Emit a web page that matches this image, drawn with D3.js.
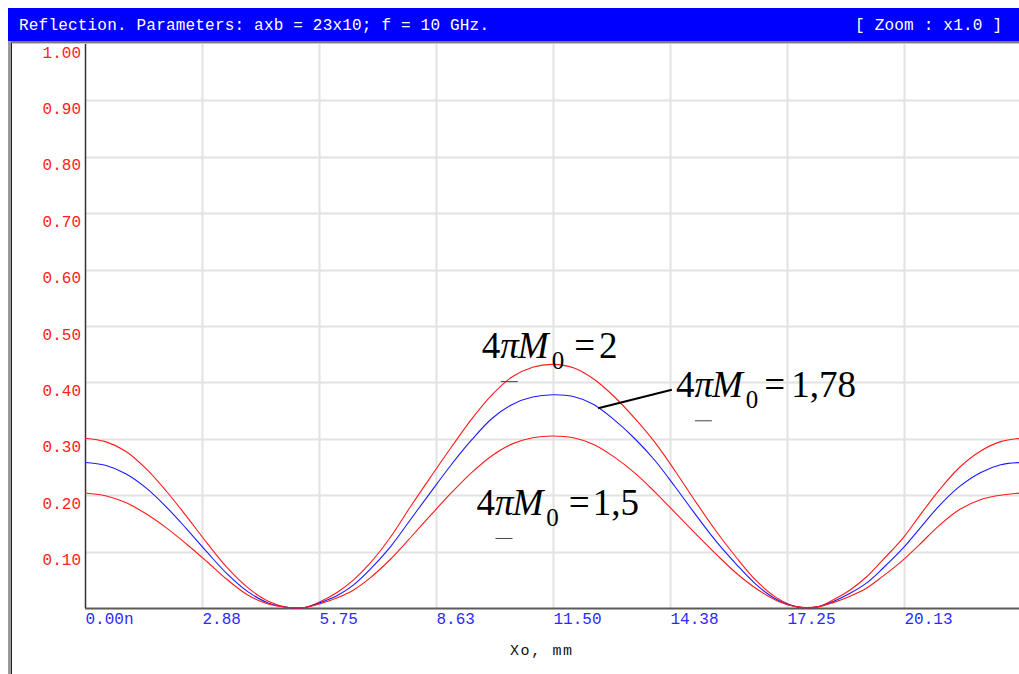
<!doctype html>
<html lang="en">
<head>
<meta charset="utf-8">
<title>Reflection</title>
<script src="https://cdn.jsdelivr.net/npm/d3@7/dist/d3.min.js"></script>
<style>
	body { margin: 0; background: #fff; }
	svg { display: block; }
	.mono { font-family: "Liberation Mono", "DejaVu Sans Mono", monospace; font-size: 16px; }
	.math { font-family: "Liberation Serif", "Times New Roman", serif; font-size: 37px; fill: #000; }
</style>
</head>
<body>
<div id="chart"></div>
<script>
	// x positions, mm
	var xs = [0, 0.5, 1.0, 1.5, 2.0, 2.5, 3.0, 3.5, 4.0, 4.5, 5.0, 5.4, 5.8, 6.2, 6.6, 7.0, 7.5, 8.0, 8.5, 9.0, 9.5, 10.0, 10.5, 11.0, 11.5,
		12.0, 12.5, 13.0, 13.5, 14.0, 14.5, 15.0, 15.5, 16.0, 16.5, 17.0, 17.5, 18.0, 18.4, 18.8, 19.2, 19.6, 20.1, 20.5, 21.0, 21.5, 22.0, 22.5, 23.0];

	// 4piM0 = 2
	var m20 = [0.301, 0.295, 0.278, 0.247, 0.207, 0.162, 0.115, 0.071, 0.036, 0.012, 0.001, 0.001, 0.012, 0.028, 0.050, 0.079, 0.125, 0.180, 0.233, 0.285, 0.335, 0.378, 0.410, 0.427, 0.432,
		0.426, 0.406, 0.375, 0.337, 0.294, 0.243, 0.189, 0.137, 0.090, 0.048, 0.018, 0.002, 0.002, 0.015, 0.032, 0.055, 0.085, 0.124, 0.163, 0.210, 0.250, 0.278, 0.295, 0.301];
	// 4piM0 = 1,78
	var m178 = [0.258, 0.253, 0.238, 0.213, 0.179, 0.140, 0.099, 0.060, 0.029, 0.009, 0.001, 0.001, 0.010, 0.022, 0.041, 0.068, 0.108, 0.157, 0.206, 0.254, 0.298, 0.336, 0.361, 0.374, 0.378,
		0.375, 0.361, 0.334, 0.301, 0.262, 0.215, 0.166, 0.119, 0.078, 0.041, 0.015, 0.002, 0.002, 0.012, 0.026, 0.044, 0.070, 0.106, 0.140, 0.182, 0.216, 0.240, 0.254, 0.258];
	// 4piM0 = 1,5
	var m15 = [0.204, 0.199, 0.187, 0.167, 0.142, 0.113, 0.082, 0.050, 0.023, 0.007, 0.001, 0.001, 0.008, 0.018, 0.032, 0.053, 0.086, 0.125, 0.165, 0.204, 0.240, 0.270, 0.291, 0.302, 0.305,
		0.302, 0.290, 0.268, 0.240, 0.206, 0.169, 0.132, 0.096, 0.062, 0.034, 0.013, 0.002, 0.002, 0.010, 0.021, 0.035, 0.056, 0.085, 0.112, 0.147, 0.175, 0.192, 0.200, 0.204];

	var xTicks = [0, 2.875, 5.75, 8.625, 11.5, 14.375, 17.25, 20.125];
	var xTickLabels = ["0.00n", "2.88", "5.75", "8.63", "11.50", "14.38", "17.25", "20.13"];
	var yTicks = [0.1, 0.2, 0.3, 0.4, 0.5, 0.6, 0.7, 0.8, 0.9, 1.0];
	var yTickLabels = ["0.10", "0.20", "0.30", "0.40", "0.50", "0.60", "0.70", "0.80", "0.90", "1.00"];

	var series = [
		{ name: "2", values: m20, color: "#ff1a1a" },
		{ name: "1,78", values: m178, color: "#1a1aff" },
		{ name: "1,5", values: m15, color: "#ff1a1a" }
	];

	// label anchors in data units (x mm, y value); gaps around "="
	var labels = [
		{ value: "2", x: 9.75, y: 0.443, gapEq: 10, gapNum: 4 },
		{ value: "1,78", x: 14.52, y: 0.3736, gapEq: 6, gapNum: 6 },
		{ value: "1,5", x: 9.62, y: 0.165, gapEq: 10, gapNum: 3 }
	];
	var leader = [[12.61, 0.354], [14.42, 0.387]];

	var widthSvg = 1019, heightSvg = 674;
	var plotLeft = 85, plotRight = 1021, plotTop = 44, plotBottom = 608;

	var svg = d3.select("#chart").append("svg").attr("width", widthSvg).attr("height", heightSvg);

	var xScale = d3.scaleLinear().domain([0, 23]).range([plotLeft, plotRight]);
	var yScale = d3.scaleLinear().domain([0, 1]).range([plotBottom, plotTop]);

	// frame and title bar
	svg.append("rect").attr("x", 8).attr("y", 8).attr("width", widthSvg - 8).attr("height", 33).attr("fill", "#0000ff");
	svg.append("rect").attr("x", 8).attr("y", 41).attr("width", widthSvg - 8).attr("height", 2).attr("fill", "#7a7a7a");
	svg.append("rect").attr("x", 8).attr("y", 43).attr("width", widthSvg - 8).attr("height", 1).attr("fill", "#c8c8c8");
	svg.append("rect").attr("x", 8).attr("y", 41).attr("width", 3).attr("height", heightSvg - 41).attr("fill", "#9a9a9a");
	svg.append("rect").attr("x", 11).attr("y", 43).attr("width", 1).attr("height", heightSvg - 43).attr("fill", "#222");

	svg.append("text").attr("class", "mono").attr("x", 19).attr("y", 30).attr("fill", "#fff")
		.attr("textLength", 470)
		.text("Reflection. Parameters: axb = 23x10; f = 10 GHz.");
	svg.append("text").attr("class", "mono").attr("x", 855).attr("y", 30).attr("fill", "#fff")
		.attr("textLength", 147)
		.text("[ Zoom : x1.0 ]");

	// grid
	var g = svg.append("g");
	g.selectAll(".vgrid").data(xTicks.slice(1)).enter().append("line")
		.attr("x1", function(d) { return Math.round(xScale(d)) + 0.5; })
		.attr("x2", function(d) { return Math.round(xScale(d)) + 0.5; })
		.attr("y1", plotTop).attr("y2", plotBottom)
		.attr("stroke", "#e2e2e2").attr("stroke-width", 2);
	g.selectAll(".hgrid").data(yTicks.slice(0, -1)).enter().append("line")
		.attr("x1", plotLeft).attr("x2", widthSvg)
		.attr("y1", function(d) { return Math.round(yScale(d)) + 0.5; })
		.attr("y2", function(d) { return Math.round(yScale(d)) + 0.5; })
		.attr("stroke", "#e2e2e2").attr("stroke-width", 2);

	// axes
	var xAxis = svg.append("g").attr("transform", "translate(0," + plotBottom + ")")
		.call(d3.axisBottom(xScale).tickValues(xTicks).tickSize(0)
			.tickFormat(function(d, i) { return xTickLabels[i]; }));
	xAxis.select(".domain").remove();
	xAxis.selectAll("text").attr("class", "mono").attr("fill", "#2a2aff")
		.attr("text-anchor", "start").attr("y", 15.5).attr("dy", null);

	var yAxis = svg.append("g").attr("transform", "translate(81,0)")
		.call(d3.axisLeft(yScale).tickValues(yTicks).tickSize(0)
			.tickFormat(function(d, i) { return yTickLabels[i]; }));
	yAxis.select(".domain").remove();
	yAxis.selectAll("text").attr("class", "mono").attr("fill", "#ff2020")
		.attr("x", 0).attr("y", 13).attr("dy", null);

	svg.append("line").attr("x1", plotLeft).attr("x2", widthSvg).attr("y1", plotBottom + 0.5).attr("y2", plotBottom + 0.5)
		.attr("stroke", "#5a5a5a").attr("stroke-width", 2);
	svg.append("line").attr("x1", plotLeft + 0.5).attr("x2", plotLeft + 0.5).attr("y1", plotTop).attr("y2", plotBottom)
		.attr("stroke", "#333").attr("stroke-width", 1.5);

	svg.append("text").attr("class", "mono").attr("x", 510).attr("y", 655).attr("fill", "#111")
		.style("font-size", "15px").attr("textLength", 62).text("Xo, mm");

	// curves
	var line = d3.line()
		.x(function(d) { return xScale(d[0]); })
		.y(function(d) { return yScale(Math.max(0, d[1])); })
		.curve(d3.curveCatmullRom.alpha(0.5));

	svg.selectAll(".curve").data(series).enter().append("path")
		.attr("fill", "none")
		.attr("stroke", function(d) { return d.color; })
		.attr("stroke-width", 1.1)
		.attr("d", function(d) { return line(xs.map(function(x, i) { return [x, d.values[i]]; })); });

	// annotations
	svg.append("line")
		.attr("x1", xScale(leader[0][0])).attr("y1", yScale(leader[0][1]))
		.attr("x2", xScale(leader[1][0])).attr("y2", yScale(leader[1][1]))
		.attr("stroke", "#000").attr("stroke-width", 2);

	labels.forEach(function(l) {
		var px = xScale(l.x), py = yScale(l.y);
		var t = svg.append("text").attr("class", "math").attr("x", px).attr("y", py);
		t.append("tspan").text("4");
		t.append("tspan").attr("font-style", "italic").attr("dx", 0).text("π");
		t.append("tspan").attr("font-style", "italic").attr("dx", -1).text("M");
		t.append("tspan").attr("font-size", "25px").attr("dx", 3).attr("dy", 11).text("0");
		t.append("tspan").attr("dx", l.gapEq).attr("dy", -11).text("=");
		t.append("tspan").attr("dx", l.gapNum).text(l.value);
		svg.append("line")
			.attr("x1", px + 19).attr("x2", px + 36)
			.attr("y1", py + 23.5).attr("y2", py + 23.5)
			.attr("stroke", "#444").attr("stroke-width", 1);
	});
</script>
</body>
</html>
